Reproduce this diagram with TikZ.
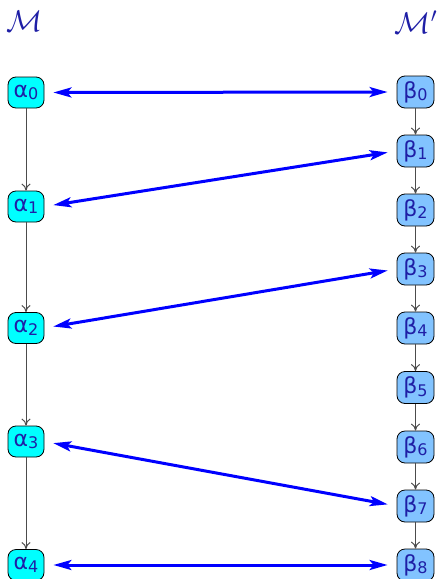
\documentclass[tikz,border=0pt]{standalone}
\usepackage{fix-cm}
\usepackage{fontspec}
\newfontfamily\grk{DejaVu Sans}
\usetikzlibrary{arrows.meta}
\definecolor{txt}{rgb}{0.12,0.12,0.65}
\definecolor{afill}{RGB}{0,255,255}
\definecolor{bfill}{RGB}{130,195,255}
\newcommand{\sbs}[1]{\raisebox{-2.5pt}{\fontsize{16}{18}\selectfont #1}}
\begin{document}
\begin{tikzpicture}[x=1pt,y=-1pt,
 anode/.style={draw=black, line width=0.8pt, rounded corners=8pt, fill=afill, minimum width=36pt, minimum height=31pt, inner sep=0pt, text=txt, font=\grk\fontsize{22}{26}\selectfont},
 bnode/.style={anode, fill=bfill, minimum width=37pt, minimum height=32pt},
 link/.style={draw=black!70, line width=1pt, -{To[length=7pt,width=9pt]}},
 corr/.style={draw=blue, line width=3pt, {Stealth[length=18pt,width=10pt,inset=4pt]}-{Stealth[length=18pt,width=10pt,inset=4pt]}, shorten <=9pt, shorten >=9pt},
 title/.style={text=txt, font=\fontsize{30}{34}\selectfont, inner sep=0pt}]
\useasboundingbox (0,0) rectangle (439,579);
\node[title] (M) at (25,21) {$\mathcal{M}$};
\node[title] (Mp) at (416,22) {$\mathcal{M}'$};
\node[anode] (a0) at (26,92.5) {α\sbs{0}};
\node[anode] (a1) at (26,206.5) {α\sbs{1}};
\node[anode] (a2) at (26,328) {α\sbs{2}};
\node[anode] (a3) at (26,441.5) {α\sbs{3}};
\node[anode] (a4) at (26,565) {α\sbs{4}};
\node[bnode] (b0) at (415.5,92) {β\sbs{0}};
\node[bnode] (b1) at (415.5,151) {β\sbs{1}};
\node[bnode] (b2) at (415.5,210) {β\sbs{2}};
\node[bnode] (b3) at (415.5,269) {β\sbs{3}};
\node[bnode] (b4) at (415.5,328) {β\sbs{4}};
\node[bnode] (b5) at (415.5,387.5) {β\sbs{5}};
\node[bnode] (b6) at (415.5,447) {β\sbs{6}};
\node[bnode] (b7) at (415.5,506) {β\sbs{7}};
\node[bnode] (b8) at (415.5,565) {β\sbs{8}};
\foreach \i/\j in {0/1,1/2,2/3,3/4}{\draw[link] (a\i) -- (a\j);}
\foreach \i/\j in {0/1,1/2,2/3,3/4,4/5,5/6,6/7,7/8}{\draw[link] (b\i) -- (b\j);}
\draw[corr] (a0.east) -- (b0.west);
\draw[corr] (a1.east) -- (b1.west);
\draw[corr] (a2.east) -- (b3.west);
\draw[corr] (a3.east) -- (b7.west);
\draw[corr] (a4.east) -- (b8.west);
\end{tikzpicture}
\end{document}
